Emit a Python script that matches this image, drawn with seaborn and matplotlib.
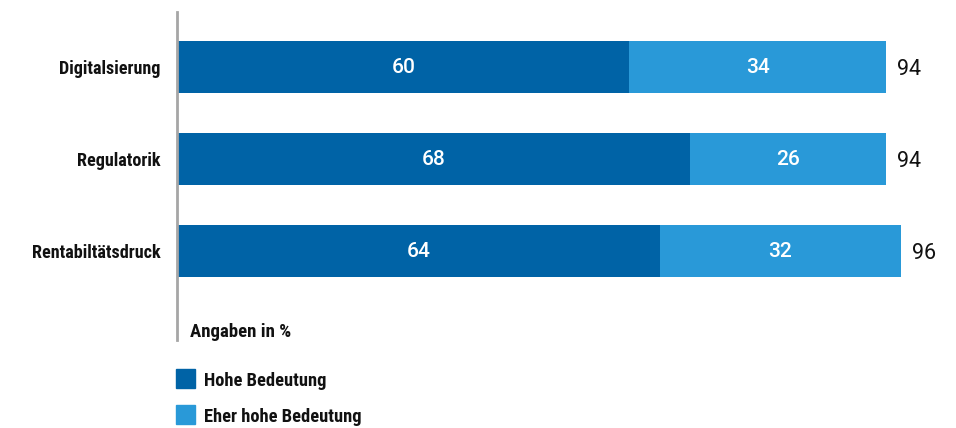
import os
import matplotlib
matplotlib.use("Agg")
import matplotlib.pyplot as plt
from matplotlib import font_manager
import seaborn as sns
import pandas as pd

# Survey data (Angaben in %)
categories = ["Digitalsierung", "Regulatorik", "Rentabiltätsdruck"]
hohe_bedeutung = [60, 68, 64]
eher_hohe_bedeutung = [34, 26, 32]
series_labels = ["Hohe Bedeutung", "Eher hohe Bedeutung"]

dark_blue = "#0063a6"
light_blue = "#2999d8"

sns.set_theme(style="white")
plt.rcParams["font.family"] = ["Roboto", "DejaVu Sans"]


def pick_condensed_bold():
    """Find a condensed/narrow bold sans face among the installed fonts."""
    files = [f.fname for f in font_manager.fontManager.ttflist]
    preferred = ["RobotoCondensed-Bold.", "Roboto_Condensed-Bold", "RobotoCondensed-Bold",
                 "LiberationSansNarrow-Bold.", "NotoSans-CondensedBold.",
                 "OpenSans-CondensedBold.", "OpenSans_Condensed-Bold.",
                 "DejaVuSansCondensed-Bold."]
    for key in preferred:
        for fn in files:
            if key in os.path.basename(fn):
                return font_manager.FontProperties(fname=fn)
    for fn in files:
        base = os.path.basename(fn)
        if (("ondensed" in base or "Narrow" in base) and "Bold" in base
                and "Italic" not in base and "Extra" not in base
                and "Semi" not in base and "Serif" not in base and "Mono" not in base):
            return font_manager.FontProperties(fname=fn)
    return font_manager.FontProperties(family="DejaVu Sans", weight="bold")


cond_bold = pick_condensed_bold()


def label_props(size):
    fp = cond_bold.copy()
    fp.set_size(size)
    return fp


totals = [h + e for h, e in zip(hohe_bedeutung, eher_hohe_bedeutung)]
df = pd.DataFrame({"Kategorie": categories, "hoch": hohe_bedeutung,
                   "eher": eher_hohe_bedeutung, "gesamt": totals})

W, H = 956, 428
fig = plt.figure(figsize=(W / 100, H / 100), dpi=100)
ax = fig.add_axes([177 / W, (H - 340) / H, 754 / W, 328 / H])

bar_h = 0.565
# full-length bars give the light segment, the dark segment is drawn on top
sns.barplot(data=df, x="gesamt", y="Kategorie", orient="h", color=light_blue,
            width=bar_h, saturation=1, ax=ax, edgecolor="none")
sns.barplot(data=df, x="hoch", y="Kategorie", orient="h", color=dark_blue,
            width=bar_h, saturation=1, ax=ax, edgecolor="none")

ax.set_xlim(0, 100)
ax.set_ylim(2.967, -0.598)

# values inside the segments and totals after the bars
for i, row in df.iterrows():
    ax.text(row["hoch"] / 2, i, f"{row['hoch']}", color="white", fontsize=15,
            fontweight="medium", ha="center", va="center")
    ax.text(row["hoch"] + row["eher"] / 2, i, f"{row['eher']}", color="white",
            fontsize=15, fontweight="medium", ha="center", va="center")
    ax.annotate(f"{row['gesamt']}", xy=(row["gesamt"], i), xytext=(11, -2),
                textcoords="offset pixels", color="#111111", fontsize=15.5,
                ha="left", va="center")

ax.set_xlabel("")
ax.set_ylabel("")
ax.set_xticks([])
ax.tick_params(axis="y", length=0, pad=12)
for lbl in ax.get_yticklabels():
    lbl.set_fontproperties(label_props(13.1))
    lbl.set_color("#111111")

for side in ["top", "right", "bottom"]:
    ax.spines[side].set_visible(False)
ax.spines["left"].set_color("#a6a6a6")
ax.spines["left"].set_linewidth(2)

fig.text(190 / W, 1 - 332 / H, "Angaben in %", fontproperties=label_props(13.5),
         color="#111111", va="center", ha="left")

# legend
for k, (lab, col) in enumerate(zip(series_labels, [dark_blue, light_blue])):
    yc = 378 + k * 36
    fig.patches.append(plt.Rectangle((176 / W, 1 - (yc + 9.5) / H), 19 / W, 19 / H,
                                     transform=fig.transFigure, color=col,
                                     figure=fig))
    fig.text(204 / W, 1 - (yc + 3.5) / H, lab, fontproperties=label_props(13.3),
             color="#111111", va="center", ha="left")

fig.savefig("out.png", dpi=100)
